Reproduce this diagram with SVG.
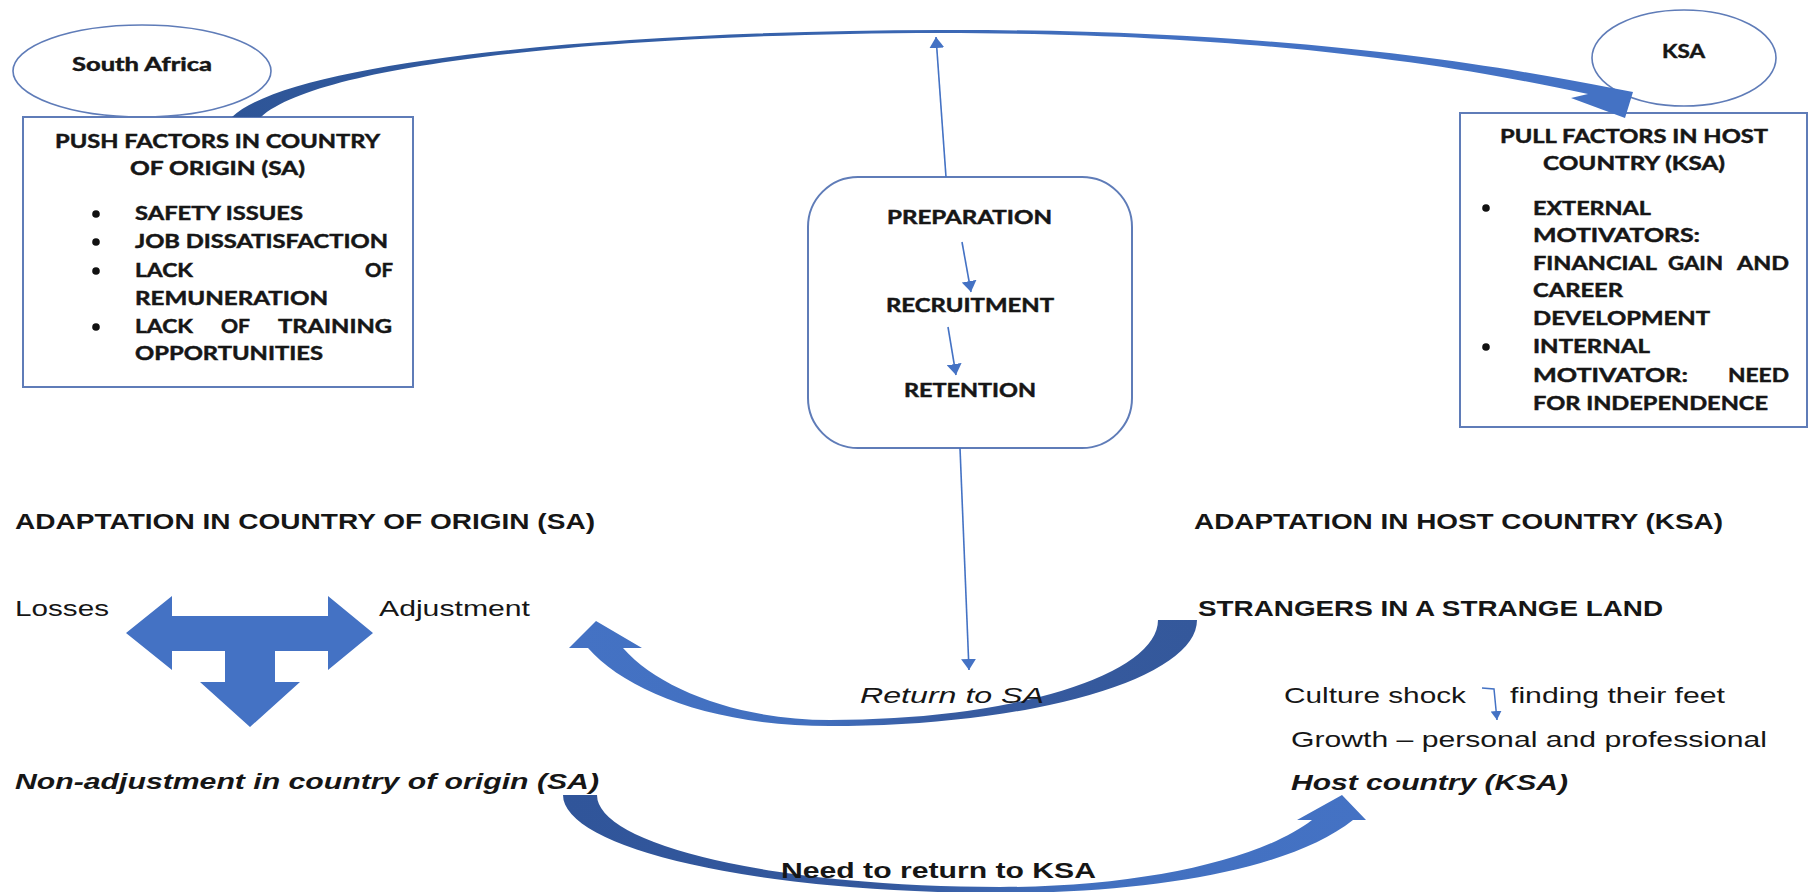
<svg xmlns="http://www.w3.org/2000/svg" width="1809" height="892" viewBox="0 0 1809 892">
  <style>
    .box { fill: #ffffff; stroke: #5F7CB8; stroke-width: 2; }
    .oval { fill: #ffffff; stroke: #5F7CB8; stroke-width: 1.6; }
    .cal { font-family: Lato, "Liberation Sans", sans-serif; font-weight: 700; font-size: 18px; fill: #161616; stroke: #161616; stroke-width: 0.45; }
    .ari { font-family: "Liberation Sans", Arial, sans-serif; font-size: 22.5px; fill: #161616; }
    .b { font-weight: 700; }
    .i { font-style: italic; }
    .thin { fill: none; stroke: #4472C4; stroke-width: 1.6; marker-end: url(#head); }
    .dot { fill: #111111; }
  </style>
  <defs>
    <marker id="head" viewBox="0 0 10 10" refX="10" refY="5" markerUnits="userSpaceOnUse" markerWidth="11" markerHeight="15" preserveAspectRatio="none" orient="auto">
      <path d="M0,0 L10,5 L0,10 Z" fill="#4472C4"/>
    </marker>
    <marker id="headSmall" viewBox="0 0 10 10" refX="10" refY="5" markerUnits="userSpaceOnUse" markerWidth="9" markerHeight="11" preserveAspectRatio="none" orient="auto">
      <path d="M0,0 L10,5 L0,10 Z" fill="#4472C4"/>
    </marker>
    <linearGradient id="gTop" gradientUnits="userSpaceOnUse" x1="232" y1="0" x2="1633" y2="0">
      <stop offset="0" stop-color="#2E5597"/>
      <stop offset="0.35" stop-color="#3560A8"/>
      <stop offset="0.7" stop-color="#4472C4"/>
      <stop offset="1" stop-color="#4472C4"/>
    </linearGradient>
    <linearGradient id="gReturn" gradientUnits="userSpaceOnUse" x1="1197" y1="0" x2="569" y2="0">
      <stop offset="0" stop-color="#34589B"/>
      <stop offset="0.4" stop-color="#375BA0"/>
      <stop offset="0.62" stop-color="#4270BF"/>
      <stop offset="1" stop-color="#4472C4"/>
    </linearGradient>
    <linearGradient id="gNeed" gradientUnits="userSpaceOnUse" x1="563" y1="0" x2="1366" y2="0">
      <stop offset="0" stop-color="#30559A"/>
      <stop offset="0.4" stop-color="#34589D"/>
      <stop offset="0.65" stop-color="#4270BF"/>
      <stop offset="1" stop-color="#4472C4"/>
    </linearGradient>
  </defs>

  <rect width="1809" height="892" fill="#ffffff"/>

  <!-- country ovals -->
  <g id="south-africa">
    <ellipse class="oval" cx="142" cy="71" rx="129" ry="46"/>
    <text class="cal" x="72" y="71" font-size="20" textLength="140" lengthAdjust="spacingAndGlyphs">South Africa</text>
  </g>
  <g id="ksa">
    <ellipse class="oval" cx="1684" cy="58" rx="92" ry="48"/>
    <text class="cal" x="1662" y="58" textLength="43" lengthAdjust="spacingAndGlyphs">KSA</text>
  </g>

  <!-- push factors -->
  <g id="push-factors">
    <rect class="box" x="23" y="117" width="390" height="270"/>
    <text class="cal" x="55" y="148" textLength="325" lengthAdjust="spacingAndGlyphs">PUSH FACTORS IN COUNTRY</text>
    <text class="cal" x="130" y="175" textLength="175" lengthAdjust="spacingAndGlyphs">OF ORIGIN (SA)</text>
    <circle class="dot" cx="96" cy="214" r="3.8"/>
    <circle class="dot" cx="96" cy="242" r="3.8"/>
    <circle class="dot" cx="96" cy="271" r="3.8"/>
    <circle class="dot" cx="96" cy="327" r="3.8"/>
    <text class="cal" x="135" y="220" textLength="168" lengthAdjust="spacingAndGlyphs">SAFETY ISSUES</text>
    <text class="cal" x="135" y="248" textLength="253" lengthAdjust="spacingAndGlyphs">JOB DISSATISFACTION</text>
    <text class="cal" x="135" y="277" textLength="58" lengthAdjust="spacingAndGlyphs">LACK</text>
    <text class="cal" x="365" y="277" textLength="28" lengthAdjust="spacingAndGlyphs">OF</text>
    <text class="cal" x="135" y="305" textLength="193" lengthAdjust="spacingAndGlyphs">REMUNERATION</text>
    <text class="cal" x="135" y="333" textLength="58" lengthAdjust="spacingAndGlyphs">LACK</text>
    <text class="cal" x="221" y="333" textLength="29" lengthAdjust="spacingAndGlyphs">OF</text>
    <text class="cal" x="278" y="333" textLength="114" lengthAdjust="spacingAndGlyphs">TRAINING</text>
    <text class="cal" x="135" y="360" textLength="188" lengthAdjust="spacingAndGlyphs">OPPORTUNITIES</text>
  </g>

  <!-- pull factors -->
  <g id="pull-factors">
    <rect class="box" x="1460" y="113" width="347" height="314"/>
    <text class="cal" x="1500" y="143" textLength="268" lengthAdjust="spacingAndGlyphs">PULL FACTORS IN HOST</text>
    <text class="cal" x="1543" y="170" textLength="182" lengthAdjust="spacingAndGlyphs">COUNTRY (KSA)</text>
    <circle class="dot" cx="1486" cy="208" r="3.8"/>
    <circle class="dot" cx="1486" cy="347" r="3.8"/>
    <text class="cal" x="1533" y="215" textLength="118" lengthAdjust="spacingAndGlyphs">EXTERNAL</text>
    <text class="cal" x="1533" y="242" textLength="167" lengthAdjust="spacingAndGlyphs">MOTIVATORS:</text>
    <text class="cal" x="1533" y="270" textLength="124" lengthAdjust="spacingAndGlyphs">FINANCIAL</text>
    <text class="cal" x="1668" y="270" textLength="55" lengthAdjust="spacingAndGlyphs">GAIN</text>
    <text class="cal" x="1737" y="270" textLength="52" lengthAdjust="spacingAndGlyphs">AND</text>
    <text class="cal" x="1533" y="297" textLength="90" lengthAdjust="spacingAndGlyphs">CAREER</text>
    <text class="cal" x="1533" y="325" textLength="177" lengthAdjust="spacingAndGlyphs">DEVELOPMENT</text>
    <text class="cal" x="1533" y="353" textLength="117" lengthAdjust="spacingAndGlyphs">INTERNAL</text>
    <text class="cal" x="1533" y="382" textLength="155" lengthAdjust="spacingAndGlyphs">MOTIVATOR:</text>
    <text class="cal" x="1728" y="382" textLength="61" lengthAdjust="spacingAndGlyphs">NEED</text>
    <text class="cal" x="1533" y="410" textLength="235" lengthAdjust="spacingAndGlyphs">FOR INDEPENDENCE</text>
  </g>

  <!-- recruitment process -->
  <g id="process">
    <rect class="box" x="808" y="177" width="324" height="271" rx="50" ry="50"/>
    <text class="cal" x="887" y="224" textLength="165" lengthAdjust="spacingAndGlyphs">PREPARATION</text>
    <text class="cal" x="886" y="312" textLength="168" lengthAdjust="spacingAndGlyphs">RECRUITMENT</text>
    <text class="cal" x="904" y="397" textLength="132" lengthAdjust="spacingAndGlyphs">RETENTION</text>
  </g>

  <!-- adaptation in country of origin -->
  <g id="adaptation-sa">
    <text class="ari b" x="15" y="529" textLength="580" lengthAdjust="spacingAndGlyphs">ADAPTATION IN COUNTRY OF ORIGIN (SA)</text>
    <text class="ari" x="15" y="616" textLength="94" lengthAdjust="spacingAndGlyphs">Losses</text>
    <text class="ari" x="379" y="616" textLength="151" lengthAdjust="spacingAndGlyphs">Adjustment</text>
    <!-- left-right-down block arrow -->
    <polygon fill="#4472C4" points="126,633 172,596 172,616 328,616 328,596 373,633 328,670 328,651 275,651 275,682 300,682 250,727 200,682 225,682 225,651 172,651 172,670"/>
    <text class="ari b i" x="15" y="789" textLength="584" lengthAdjust="spacingAndGlyphs">Non-adjustment in country of origin (SA)</text>
  </g>

  <!-- adaptation in host country -->
  <g id="adaptation-ksa">
    <text class="ari b" x="1194" y="529" textLength="529" lengthAdjust="spacingAndGlyphs">ADAPTATION IN HOST COUNTRY (KSA)</text>
    <text class="ari b" x="1198" y="616" textLength="465" lengthAdjust="spacingAndGlyphs">STRANGERS IN A STRANGE LAND</text>
    <text class="ari" x="1284" y="703" textLength="182" lengthAdjust="spacingAndGlyphs">Culture shock</text>
    <text class="ari" x="1510" y="703" textLength="215" lengthAdjust="spacingAndGlyphs">finding their feet</text>
    <text class="ari" x="1291" y="747" textLength="476" lengthAdjust="spacingAndGlyphs">Growth – personal and professional</text>
    <text class="ari b i" x="1291" y="790" textLength="277" lengthAdjust="spacingAndGlyphs">Host country (KSA)</text>
  </g>

  <!-- connectors -->
  <g id="connectors">
    <!-- push to pull: curved block arrow over the top -->
    <path fill="url(#gTop)" d="M232,117 C290,62 600,31 940,30 C1250,29 1460,58 1612,88 L1633,92 L1625,118 L1571,98 L1588,94 C1450,64 1250,33 940,33 C600,34 320,64 261,117 Z"/>
    <!-- process links -->
    <line class="thin" x1="946" y1="177" x2="936" y2="37"/>
    <line class="thin" x1="960" y1="448" x2="969" y2="670"/>
    <line class="thin" x1="962" y1="242" x2="971" y2="292"/>
    <line class="thin" x1="948" y1="327" x2="956" y2="375"/>
    <!-- culture shock to finding their feet -->
    <path d="M1482,688 L1494,689 L1497,720" fill="none" stroke="#4472C4" stroke-width="1.5" marker-end="url(#headSmall)"/>
    <!-- return to SA -->
    <path fill="url(#gReturn)" d="M1158,620 L1197,620 A367,106 0 0,1 830,726 C710,726 625,690 588,648 L569,648 L596,621 L642,648 L623,648 C660,690 740,720 830,720 A328,100 0 0,0 1158,620 Z"/>
    <text class="ari i" x="860" y="703" textLength="184" lengthAdjust="spacingAndGlyphs">Return to SA</text>
    <!-- need to return to KSA -->
    <path fill="url(#gNeed)" d="M563,795 L597,795 A403,92 0 0,0 1000,887 C1140,887 1260,860 1312,820 L1297,820 L1342,795 L1366,820 L1353,820 C1290,870 1150,893 1000,893 A437,98 0 0,1 563,795 Z"/>
    <text class="ari b" x="781" y="878" textLength="315" lengthAdjust="spacingAndGlyphs">Need to return to KSA</text>
  </g>
</svg>
